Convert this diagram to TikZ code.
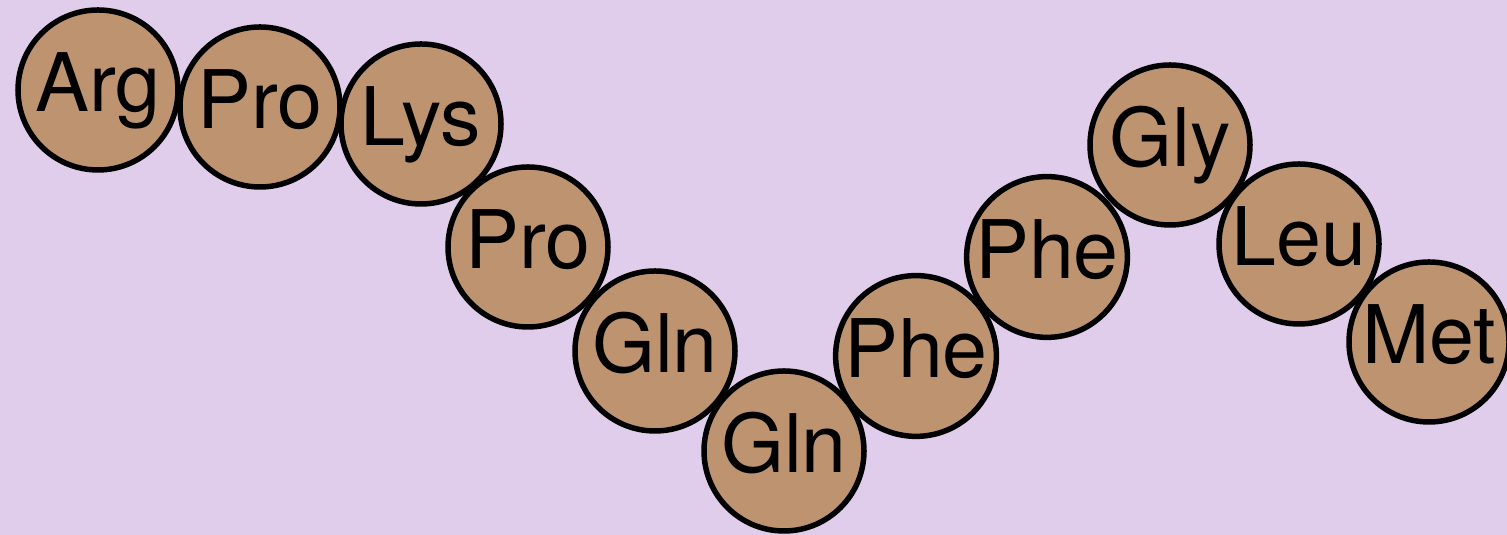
\documentclass[tikz,border=0pt]{standalone}
\usepackage{fontspec}
\setmainfont{TeX Gyre Heros}
\definecolor{lavender}{RGB}{224,205,235}
\definecolor{tan}{RGB}{190,148,112}
\tikzset{
  residue/.style={circle, draw=black, fill=tan, line width=0.055cm, minimum size=1.6cm, inner sep=0pt,
    text height=0.58cm, text depth=0.14cm, font=\fontsize{23}{27}\selectfont}
}
\begin{document}
\begin{tikzpicture}
\fill [lavender] (0, 0) rectangle (15.07, 5.35);
\useasboundingbox (0, 0) rectangle (15.07, 5.35);

\node [residue] (0) at (0.98, 4.45) {Arg};
\node [residue] (1) at (2.60, 4.28) {Pro};
\node [residue] (2) at (4.21, 4.11) {Lys};
\node [residue] (3) at (5.28, 2.88) {Pro};
\node [residue] (4) at (6.55, 1.84) {Gln};
\node [residue] (5) at (7.84, 0.84) {Gln};
\node [residue] (6) at (9.16, 1.79) {Phe};
\node [residue] (7) at (10.47, 2.78) {Phe};
\node [residue] (8) at (11.70, 3.90) {Gly};
\node [residue] (9) at (12.99, 2.91) {Leu};
\node [residue] (10) at (14.29, 1.93) {Met};
\end{tikzpicture}
\end{document}
